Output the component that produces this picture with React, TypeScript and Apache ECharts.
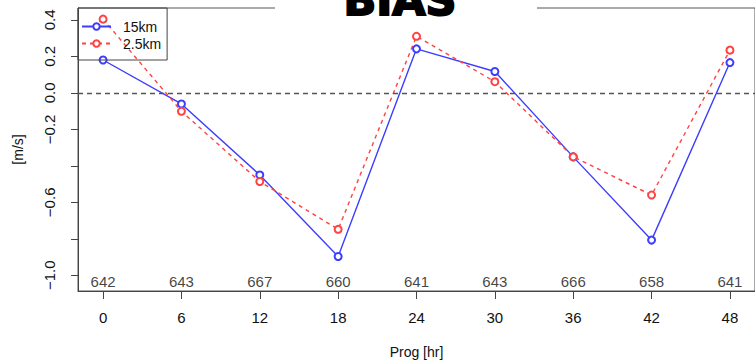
import React, { useEffect, useRef } from 'react';
import * as echarts from 'echarts';

// ---- data ----
const PROG_HOURS = [0, 6, 12, 18, 24, 30, 36, 42, 48];
const BIAS_15KM = [0.18, -0.061, -0.45, -0.897, 0.241, 0.117, -0.351, -0.807, 0.166];
const BIAS_2_5KM = [0.404, -0.101, -0.486, -0.748, 0.31, 0.061, -0.351, -0.56, 0.234];
const CASE_COUNTS = [642, 643, 667, 660, 641, 643, 666, 658, 641];
const SERIES_NAMES = ['15km', '2.5km'];
const Y_TICKS = [-1.0, -0.8, -0.6, -0.4, -0.2, 0, 0.2, 0.4];
const Y_TICK_LABELS = [-1.0, -0.6, -0.2, 0, 0.2, 0.4];
const TITLE = 'BIAS';
const X_NAME = 'Prog [hr]';
const Y_NAME = '[m/s]';

const COUNT_ROW_Y = -1.035;
const FONT = '"Liberation Sans", Arial, sans-serif';
const BLUE = '#3d3dff';
const RED = '#ff4242';

export default function App() {
  const ref = useRef<HTMLDivElement>(null);
  useEffect(() => {
    if (!ref.current) return;
    const chart = echarts.init(ref.current, undefined, { renderer: 'svg' });
    const fmt = (v: number) => (v < -1e-9 ? '\u2212' : '') + Math.abs(v).toFixed(1);
    chart.setOption({
      animation: false,
      backgroundColor: '#ffffff',
      textStyle: { fontFamily: FONT },
      grid: {
        left: 78,
        top: 8,
        right: -5,
        bottom: 69,
        show: true,
        borderColor: '#555',
        borderWidth: 1,
      },
      legend: {
        data: SERIES_NAMES,
        orient: 'vertical',
        left: 78,
        top: 8,
        padding: [11, 6, 9, 3],
        itemGap: 2,
        itemWidth: 29,
        itemHeight: 8,
        borderColor: '#444',
        borderWidth: 1,
        borderRadius: 0,
        textStyle: { fontSize: 14, color: '#111', fontFamily: FONT, padding: [0, 0, 0, 7], lineHeight: 15 },
      },
      xAxis: {
        type: 'value',
        min: -1.92,
        max: 49.92,
        name: X_NAME,
        nameLocation: 'middle',
        nameGap: 54,
        nameTextStyle: { fontSize: 14, color: '#111', fontFamily: FONT },
        splitLine: { show: false },
        axisLine: { show: true, onZero: false, lineStyle: { color: '#444', width: 1 } },
        axisTick: { show: true, customValues: PROG_HOURS, length: 8, lineStyle: { color: '#444' } },
        axisLabel: {
          customValues: PROG_HOURS,
          margin: 19,
          fontSize: 15,
          color: '#111',
          fontFamily: FONT,
        },
      },
      yAxis: {
        type: 'value',
        min: -1.086,
        max: 0.465,
        name: Y_NAME,
        nameLocation: 'middle',
        nameRotate: 90,
        nameGap: 53,
        nameTextStyle: { fontSize: 14, color: '#111', fontFamily: FONT },
        splitLine: { show: false },
        axisLine: { show: true, onZero: false, lineStyle: { color: '#444', width: 1 } },
        axisTick: { show: true, customValues: Y_TICKS, length: 7, lineStyle: { color: '#444' } },
        axisLabel: {
          customValues: Y_TICK_LABELS,
          rotate: 90,
          margin: 21,
          fontSize: 15,
          color: '#111',
          fontFamily: FONT,
          formatter: (v: number) => fmt(v),
        },
      },
      series: [
        {
          name: SERIES_NAMES[0],
          type: 'line',
          data: PROG_HOURS.map((h, i) => [h, BIAS_15KM[i]]),
          symbol: 'emptyCircle',
          symbolSize: 7,
          showAllSymbol: true,
          lineStyle: { color: BLUE, width: 1.4 },
          itemStyle: { color: BLUE, borderColor: BLUE, borderWidth: 1.5 },
          z: 3,
          markLine: {
            silent: true,
            symbol: 'none',
            label: { show: false },
            lineStyle: { color: '#555', type: [5, 4], width: 1.3 },
            data: [{ yAxis: 0 }],
            emphasis: { disabled: true },
          },
        },
        {
          name: SERIES_NAMES[1],
          type: 'line',
          data: PROG_HOURS.map((h, i) => [h, BIAS_2_5KM[i]]),
          symbol: 'emptyCircle',
          symbolSize: 7,
          showAllSymbol: true,
          lineStyle: { color: RED, width: 1.4, type: [4, 4] },
          itemStyle: { color: RED, borderColor: RED, borderWidth: 1.5 },
          z: 3,
        },
        {
          name: 'counts',
          type: 'scatter',
          silent: true,
          symbolSize: 0,
          data: PROG_HOURS.map((h, i) => [h, COUNT_ROW_Y, CASE_COUNTS[i]]),
          label: {
            show: true,
            position: 'inside',
            formatter: (p: any) => String(p.value[2]),
            fontSize: 15,
            color: '#111',
            fontFamily: FONT,
          },
        },
      ],
      graphic: [
        {
          type: 'rect',
          shape: { x: 275, y: 0, width: 262, height: 12 },
          style: { fill: '#ffffff' },
          z: 100,
        },
        {
          type: 'text',
          x: 400,
          y: 0,
          z: 101,
          style: {
            text: TITLE,
            fill: '#000',
            stroke: '#000',
            lineWidth: 2,
            fontSize: 43,
            fontWeight: 'bold',
            fontFamily: '"DejaVu Sans", sans-serif',
            align: 'center',
            verticalAlign: 'middle',
          },
        },
      ],
    });
    return () => chart.dispose();
  }, []);
  return (
    <div
      ref={ref}
      style={{ position: 'absolute', left: 0, top: 0, width: 755, height: 364, background: '#fff' }}
    />
  );
}
